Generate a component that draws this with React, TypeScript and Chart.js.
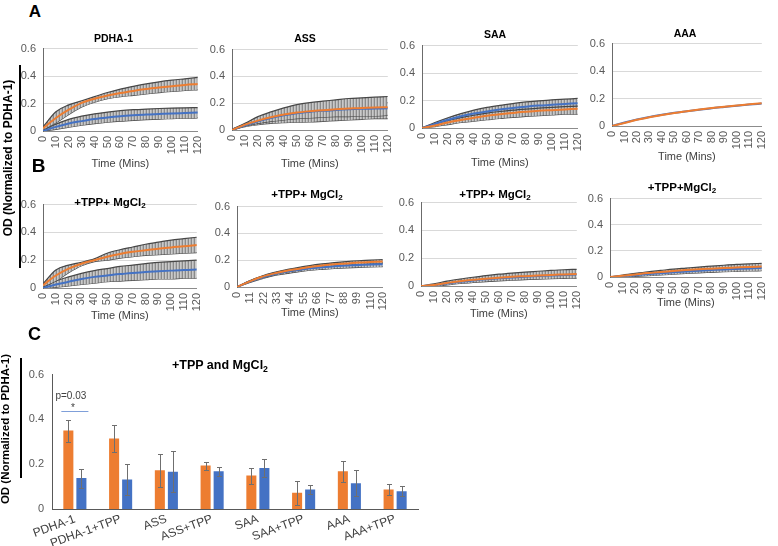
import React, { useEffect, useRef } from "react";
import { Chart, registerables } from "chart.js";

Chart.register(...registerables);

const FONT = "'Liberation Sans', Arial, Helvetica, sans-serif";
const ORANGE = "#ED7D31";
const BLUE = "#4472C4";
const TICK_COLOR = "#595959";

// ---------- time axis (minutes) ----------
const timeMins = [0, 10, 20, 30, 40, 50, 60, 70, 80, 90, 100, 110, 120];

// ---------- Panel A (no cofactors) ----------
const pdhaOrange = [0.02, 0.095, 0.155, 0.205, 0.235, 0.258, 0.277, 0.292, 0.305, 0.316, 0.326, 0.335, 0.342];
const pdhaOrangeHi = [0.03, 0.14, 0.19, 0.22, 0.25, 0.28, 0.305, 0.325, 0.343, 0.358, 0.37, 0.38, 0.39];
const pdhaOrangeLo = [0.01, 0.06, 0.12, 0.175, 0.21, 0.235, 0.25, 0.26, 0.27, 0.28, 0.288, 0.295, 0.3];
const pdhaBlue = [0, 0.03, 0.055, 0.072, 0.087, 0.098, 0.107, 0.114, 0.12, 0.124, 0.128, 0.131, 0.134];
const pdhaBlueHi = [0.005, 0.05, 0.085, 0.108, 0.125, 0.138, 0.148, 0.155, 0.16, 0.164, 0.167, 0.169, 0.17];
const pdhaBlueLo = [0, 0.012, 0.028, 0.042, 0.054, 0.064, 0.072, 0.078, 0.083, 0.087, 0.09, 0.093, 0.095];

const assOrange = [0, 0.04, 0.07, 0.095, 0.115, 0.13, 0.14, 0.148, 0.155, 0.16, 0.165, 0.168, 0.17];
const assOrangeHi = [0.005, 0.05, 0.1, 0.135, 0.165, 0.19, 0.205, 0.215, 0.225, 0.235, 0.24, 0.245, 0.25];
const assOrangeLo = [0, 0.03, 0.05, 0.065, 0.075, 0.085, 0.09, 0.095, 0.1, 0.1, 0.105, 0.105, 0.11];
const assBlue = [0, 0.035, 0.065, 0.09, 0.11, 0.125, 0.135, 0.143, 0.15, 0.155, 0.158, 0.16, 0.162];
const assBlueHi = [0.005, 0.045, 0.085, 0.115, 0.14, 0.16, 0.175, 0.185, 0.19, 0.195, 0.2, 0.2, 0.205];
const assBlueLo = [0, 0.025, 0.04, 0.05, 0.055, 0.058, 0.06, 0.065, 0.07, 0.075, 0.08, 0.085, 0.085];

const saaOrange = [0, 0.018, 0.04, 0.058, 0.075, 0.09, 0.1, 0.11, 0.118, 0.125, 0.13, 0.135, 0.14];
const saaOrangeHi = [0, 0.03, 0.055, 0.075, 0.093, 0.108, 0.12, 0.13, 0.138, 0.145, 0.15, 0.155, 0.16];
const saaOrangeLo = [0, 0.01, 0.025, 0.04, 0.05, 0.06, 0.07, 0.078, 0.085, 0.09, 0.095, 0.1, 0.1];
const saaBlue = [0, 0.03, 0.06, 0.085, 0.105, 0.12, 0.135, 0.145, 0.155, 0.163, 0.17, 0.175, 0.18];
const saaBlueHi = [0, 0.04, 0.075, 0.105, 0.13, 0.15, 0.165, 0.178, 0.19, 0.198, 0.205, 0.21, 0.215];
const saaBlueLo = [0, 0.02, 0.045, 0.068, 0.085, 0.1, 0.115, 0.125, 0.135, 0.143, 0.15, 0.155, 0.16];

const aaaOrange = [0, 0.022, 0.045, 0.063, 0.08, 0.095, 0.108, 0.12, 0.131, 0.141, 0.15, 0.158, 0.166];
const aaaBlue = [0, 0.026, 0.048, 0.066, 0.082, 0.096, 0.108, 0.119, 0.13, 0.139, 0.148, 0.156, 0.163];

// ---------- Panel B (+TPP + MgCl2) ----------
const pdhaTppOrange = [0.02, 0.09, 0.14, 0.175, 0.2, 0.225, 0.245, 0.26, 0.272, 0.282, 0.292, 0.3, 0.31];
const pdhaTppOrangeHi = [0.03, 0.13, 0.165, 0.185, 0.21, 0.25, 0.275, 0.295, 0.315, 0.33, 0.345, 0.355, 0.365];
const pdhaTppOrangeLo = [0.01, 0.05, 0.11, 0.16, 0.19, 0.2, 0.215, 0.225, 0.235, 0.24, 0.245, 0.25, 0.255];
const pdhaTppBlue = [0, 0.025, 0.045, 0.065, 0.08, 0.09, 0.1, 0.108, 0.115, 0.12, 0.125, 0.13, 0.133];
const pdhaTppBlueHi = [0.005, 0.05, 0.08, 0.105, 0.125, 0.14, 0.155, 0.165, 0.175, 0.185, 0.19, 0.195, 0.2];
const pdhaTppBlueLo = [0, 0.005, 0.015, 0.025, 0.035, 0.045, 0.05, 0.055, 0.06, 0.065, 0.065, 0.07, 0.07];

const assTppOrange = [0, 0.04, 0.075, 0.1, 0.12, 0.135, 0.15, 0.16, 0.17, 0.176, 0.182, 0.186, 0.19];
const assTppOrangeHi = [0, 0.045, 0.08, 0.107, 0.128, 0.145, 0.16, 0.172, 0.182, 0.19, 0.196, 0.2, 0.205];
const assTppOrangeLo = [0, 0.035, 0.068, 0.092, 0.11, 0.125, 0.14, 0.15, 0.16, 0.166, 0.172, 0.176, 0.18];
const assTppBlue = [0, 0.038, 0.07, 0.095, 0.113, 0.127, 0.14, 0.148, 0.155, 0.16, 0.165, 0.168, 0.17];
const assTppBlueHi = [0, 0.045, 0.078, 0.103, 0.122, 0.137, 0.15, 0.158, 0.165, 0.17, 0.175, 0.178, 0.18];
const assTppBlueLo = [0, 0.032, 0.06, 0.085, 0.1, 0.113, 0.125, 0.132, 0.138, 0.143, 0.147, 0.15, 0.152];

const saaTppOrange = [0, 0.008, 0.022, 0.035, 0.045, 0.053, 0.06, 0.066, 0.071, 0.076, 0.08, 0.083, 0.086];
const saaTppOrangeHi = [0, 0.015, 0.035, 0.05, 0.063, 0.075, 0.085, 0.093, 0.1, 0.106, 0.112, 0.117, 0.12];
const saaTppOrangeLo = [0, 0, 0.008, 0.018, 0.025, 0.032, 0.037, 0.042, 0.046, 0.05, 0.053, 0.055, 0.057];
const saaTppBlue = [0, 0.006, 0.018, 0.03, 0.04, 0.048, 0.055, 0.061, 0.067, 0.072, 0.076, 0.079, 0.082];

const aaaTppOrange = [0, 0.01, 0.02, 0.03, 0.038, 0.046, 0.053, 0.059, 0.064, 0.069, 0.073, 0.077, 0.08];
const aaaTppOrangeHi = [0, 0.015, 0.028, 0.04, 0.05, 0.06, 0.068, 0.076, 0.083, 0.09, 0.096, 0.1, 0.105];
const aaaTppOrangeLo = [0, 0, 0.005, 0.01, 0.016, 0.022, 0.027, 0.032, 0.036, 0.04, 0.043, 0.046, 0.048];
const aaaTppBlue = [0, 0.006, 0.014, 0.022, 0.029, 0.036, 0.042, 0.048, 0.053, 0.058, 0.062, 0.066, 0.069];

// ---------- Panel C (bar chart, +TPP and MgCl2) ----------
const barCategories = ["PDHA-1", "PDHA-1+TPP", "ASS", "ASS+TPP", "SAA", "SAA+TPP", "AAA", "AAA+TPP"];
const barOrange = [0.35, 0.315, 0.173, 0.194, 0.149, 0.072, 0.169, 0.087];
const barOrangeHi = [0.397, 0.376, 0.245, 0.21, 0.184, 0.126, 0.214, 0.112];
const barOrangeLo = [0.3, 0.254, 0.099, 0.174, 0.112, 0.017, 0.121, 0.064];
const barBlue = [0.138, 0.132, 0.166, 0.169, 0.183, 0.087, 0.115, 0.079];
const barBlueHi = [0.179, 0.199, 0.258, 0.187, 0.224, 0.105, 0.173, 0.102];
const barBlueLo = [0.095, 0.064, 0.074, 0.149, 0.142, 0.067, 0.06, 0.06];
const sigLabel = "p=0.03";
const sigValue = 0.438;

const yTickStep = 0.2;
const yMax = 0.6;

type Band = { hi: number[]; lo: number[] } | null;
type PanelSpec = {
  L: number; R: number; T: number; B: number; timeY: number; xStep: number;
  orange: number[]; blue: number[]; orangeBand: Band; blueBand: Band;
};

const panels: PanelSpec[] = [
  { L: 43, R: 207, T: 43, B: 131, timeY: 164, xStep: 10, orange: pdhaOrange, blue: pdhaBlue,
    orangeBand: { hi: pdhaOrangeHi, lo: pdhaOrangeLo }, blueBand: { hi: pdhaBlueHi, lo: pdhaBlueLo } },
  { L: 232, R: 397, T: 44, B: 130, timeY: 164, xStep: 10, orange: assOrange, blue: assBlue,
    orangeBand: { hi: assOrangeHi, lo: assOrangeLo }, blueBand: { hi: assBlueHi, lo: assBlueLo } },
  { L: 422, R: 587, T: 40, B: 128, timeY: 163, xStep: 10, orange: saaOrange, blue: saaBlue,
    orangeBand: { hi: saaOrangeHi, lo: saaOrangeLo }, blueBand: { hi: saaBlueHi, lo: saaBlueLo } },
  { L: 612, R: 771, T: 38, B: 126, timeY: 157, xStep: 10, orange: aaaOrange, blue: aaaBlue,
    orangeBand: null, blueBand: null },
  { L: 43, R: 206, T: 199, B: 288, timeY: 316, xStep: 10, orange: pdhaTppOrange, blue: pdhaTppBlue,
    orangeBand: { hi: pdhaTppOrangeHi, lo: pdhaTppOrangeLo }, blueBand: { hi: pdhaTppBlueHi, lo: pdhaTppBlueLo } },
  { L: 237, R: 392, T: 201, B: 287, timeY: 313, xStep: 11, orange: assTppOrange, blue: assTppBlue,
    orangeBand: { hi: assTppOrangeHi, lo: assTppOrangeLo }, blueBand: { hi: assTppBlueHi, lo: assTppBlueLo } },
  { L: 421, R: 586, T: 197, B: 286, timeY: 314, xStep: 10, orange: saaTppOrange, blue: saaTppBlue,
    orangeBand: { hi: saaTppOrangeHi, lo: saaTppOrangeLo }, blueBand: null },
  { L: 610, R: 771, T: 193, B: 277, timeY: 303, xStep: 10, orange: aaaTppOrange, blue: aaaTppBlue,
    orangeBand: { hi: aaaTppOrangeHi, lo: aaaTppOrangeLo }, blueBand: null },
];

const fmtY = (v: any) => {
  const n = Math.round(Number(v) * 10) / 10;
  return n === 0 ? "0" : n.toFixed(1);
};

function makePattern(ctx: CanvasRenderingContext2D) {
  const c = document.createElement("canvas");
  c.width = 3;
  c.height = 4;
  const g = c.getContext("2d")!;
  g.fillStyle = "#c9c9c9";
  g.fillRect(0, 0, 3, 4);
  g.fillStyle = "#8a8a8a";
  g.fillRect(0, 0, 1, 4);
  g.fillStyle = "#b4b4b4";
  g.fillRect(2, 0, 1, 4);
  return ctx.createPattern(c, "repeat");
}

function LinePanel({ spec }: { spec: PanelSpec }) {
  const ref = useRef<HTMLCanvasElement>(null);
  const YW = 26, PT = 8, PR = 9;
  const left = spec.L - YW;
  const top = spec.T - PT;
  const width = spec.R - spec.L + YW + PR;
  const bottom = spec.timeY + 7;
  const height = bottom - top;
  const xh = bottom - spec.B;

  useEffect(() => {
    const canvas = ref.current!;
    const ctx = canvas.getContext("2d")!;
    const pattern = makePattern(ctx);
    const pts = (arr: number[]) => timeMins.map((t, i) => ({ x: t, y: arr[i] }));
    const lineDs = (arr: number[], color: string) => ({
      data: pts(arr), borderColor: color, borderWidth: 2, pointRadius: 0,
      cubicInterpolationMode: "monotone", fill: false,
    });
    const datasets: any[] = [lineDs(spec.orange, ORANGE), lineDs(spec.blue, BLUE)];
    [spec.orangeBand, spec.blueBand].forEach((b) => {
      if (!b) return;
      datasets.push({
        data: pts(b.hi), borderColor: "#474747", borderWidth: 1.2, pointRadius: 0,
        cubicInterpolationMode: "monotone", fill: "+1", backgroundColor: pattern,
      });
      datasets.push({
        data: pts(b.lo), borderColor: "#474747", borderWidth: 1.2, pointRadius: 0,
        cubicInterpolationMode: "monotone", fill: false,
      });
    });
    const chart = new Chart(canvas, {
      type: "line",
      data: { datasets },
      options: {
        animation: false,
        responsive: false,
        maintainAspectRatio: false,
        devicePixelRatio: 1,
        layout: { padding: { top: PT, right: PR, left: 0, bottom: 0 } },
        plugins: { legend: { display: false }, tooltip: { enabled: false }, title: { display: false } },
        scales: {
          x: {
            type: "linear", min: 0, max: 120, bounds: "data",
            ticks: {
              stepSize: spec.xStep, minRotation: 90, maxRotation: 90, autoSkip: false,
              includeBounds: false, color: TICK_COLOR, padding: 5,
              font: { family: FONT, size: 11 },
            },
            grid: { display: false, drawTicks: false },
            border: { display: true, color: "#8c8c8c", width: 1 },
            title: {
              display: true, text: "Time (Mins)", color: "#404040", padding: 0,
              font: { family: FONT, size: 11 },
            },
            afterFit: (s: any) => { s.height = xh; },
          },
          y: {
            min: 0, max: yMax,
            ticks: {
              stepSize: yTickStep, color: TICK_COLOR, padding: 7,
              font: { family: FONT, size: 11 }, callback: fmtY,
            },
            grid: { color: "#d9d9d9", drawTicks: false },
            border: { display: true, color: "#6b6b6b", width: 1 },
            afterFit: (s: any) => { s.width = YW; },
          },
        },
      } as any,
    });
    return () => chart.destroy();
  }, []);

  return (
    <canvas
      ref={ref}
      width={width}
      height={height}
      style={{ position: "absolute", left, top, width, height }}
    />
  );
}

const errorBarPlugin = {
  id: "errorBars",
  afterDatasetsDraw(chart: any) {
    const ctx = chart.ctx;
    const ys = chart.scales.y;
    const sets = [
      [barOrangeHi, barOrangeLo],
      [barBlueHi, barBlueLo],
    ];
    ctx.save();
    ctx.strokeStyle = "#6f6f6f";
    ctx.lineWidth = 1;
    sets.forEach(([hi, lo], di) => {
      const meta = chart.getDatasetMeta(di);
      meta.data.forEach((bar: any, i: number) => {
        const x = Math.round(bar.x) + 0.5;
        const yh = Math.round(ys.getPixelForValue(hi[i])) + 0.5;
        const yl = Math.round(ys.getPixelForValue(lo[i])) + 0.5;
        ctx.beginPath();
        ctx.moveTo(x, yh);
        ctx.lineTo(x, yl);
        ctx.moveTo(x - 2.5, yh);
        ctx.lineTo(x + 2.5, yh);
        ctx.moveTo(x - 2.5, yl);
        ctx.lineTo(x + 2.5, yl);
        ctx.stroke();
      });
    });
    // significance bracket between the first pair
    const o = chart.getDatasetMeta(0).data[0];
    const b = chart.getDatasetMeta(1).data[0];
    const x1 = o.x - o.width / 2 - 2;
    const x2 = b.x + b.width / 2 + 2;
    const yl = Math.round(ys.getPixelForValue(sigValue)) + 0.5;
    ctx.strokeStyle = "#7f9fd9";
    ctx.beginPath();
    ctx.moveTo(x1, yl);
    ctx.lineTo(x2, yl);
    ctx.stroke();
    const mid = (o.x + b.x) / 2;
    ctx.fillStyle = "#404040";
    ctx.textAlign = "center";
    ctx.textBaseline = "middle";
    ctx.font = `10px ${FONT}`;
    ctx.fillText("*", mid - 2, yl - 3);
    ctx.fillText(sigLabel, mid - 4, ys.getPixelForValue(sigValue + 0.065));
    ctx.restore();
  },
};

function BarPanel() {
  const ref = useRef<HTMLCanvasElement>(null);
  const L = 52, R = 418, T = 368, B = 509;
  const YW = 30, PT = 8, PR = 10;
  const left = L - YW, top = T - PT;
  const width = R - L + YW + PR;
  const height = 546 - top;
  const xh = 546 - B;
  useEffect(() => {
    const chart = new Chart(ref.current!, {
      type: "bar",
      data: {
        labels: barCategories,
        datasets: [
          { data: barOrange, backgroundColor: ORANGE, categoryPercentage: 0.57, barPercentage: 0.77 },
          { data: barBlue, backgroundColor: BLUE, categoryPercentage: 0.57, barPercentage: 0.77 },
        ],
      },
      options: {
        animation: false,
        responsive: false,
        maintainAspectRatio: false,
        devicePixelRatio: 1,
        layout: { padding: { top: PT, right: PR, left: 0, bottom: 0 } },
        plugins: { legend: { display: false }, tooltip: { enabled: false } },
        scales: {
          x: {
            ticks: {
              minRotation: 20, maxRotation: 20, autoSkip: false, color: "#404040", padding: 3,
              font: { family: FONT, size: 12 },
            },
            grid: { display: false, drawTicks: false },
            border: { display: true, color: "#595959", width: 1 },
            afterFit: (s: any) => { s.height = xh; },
          },
          y: {
            min: 0, max: yMax,
            ticks: {
              stepSize: yTickStep, color: TICK_COLOR, padding: 8,
              font: { family: FONT, size: 11 }, callback: fmtY,
            },
            grid: { display: false, drawTicks: false },
            border: { display: true, color: "#595959", width: 1 },
            afterFit: (s: any) => { s.width = YW; },
          },
        },
      } as any,
      plugins: [errorBarPlugin],
    });
    return () => chart.destroy();
  }, []);
  return (
    <canvas
      ref={ref}
      width={width}
      height={height}
      style={{ position: "absolute", left, top, width, height }}
    />
  );
}

function Txt({ x, y, size, bold, children, rotate, color }: any) {
  return (
    <div
      style={{
        position: "absolute", left: x, top: y, whiteSpace: "nowrap", lineHeight: 1,
        fontSize: size, fontWeight: bold ? "bold" : "normal", color: color || "#000",
        transform: `translate(-50%, -50%)${rotate ? ` rotate(${rotate}deg)` : ""}`,
        fontFamily: FONT,
      }}
    >
      {children}
    </div>
  );
}

const sub = (t: string) => (
  <span style={{ fontSize: "0.7em", position: "relative", top: "0.3em" }}>{t}</span>
);

const tppTitle = (plusSpace: boolean) => (
  <>
    +TPP+{plusSpace ? " " : ""}MgCl{sub("2")}
  </>
);

export default function App() {
  return (
    <div
      style={{
        position: "fixed", left: 0, top: 0, width: 778, height: 546, overflow: "hidden",
        background: "#fff", fontFamily: FONT,
      }}
    >
      {panels.map((p, i) => (
        <LinePanel key={i} spec={p} />
      ))}
      <BarPanel />

      <Txt x={35} y={11} size={17} bold>A</Txt>
      <Txt x={38.5} y={165} size={19} bold>B</Txt>
      <Txt x={34.5} y={333.5} size={18} bold>C</Txt>

      <Txt x={113.5} y={38} size={10.5} bold>PDHA-1</Txt>
      <Txt x={305} y={38} size={10.5} bold>ASS</Txt>
      <Txt x={495} y={34} size={10.5} bold>SAA</Txt>
      <Txt x={685} y={33} size={10.5} bold>AAA</Txt>

      <Txt x={110} y={203} size={11.5} bold>{tppTitle(true)}</Txt>
      <Txt x={307} y={195} size={11.5} bold>{tppTitle(true)}</Txt>
      <Txt x={495} y={195} size={11.5} bold>{tppTitle(true)}</Txt>
      <Txt x={682} y={188} size={11.5} bold>{tppTitle(false)}</Txt>

      <Txt x={220} y={365} size={12.5} bold>+TPP and MgCl{sub("2")}</Txt>

      <Txt x={8} y={158} size={12} bold rotate={-90}>OD (Normalized to PDHA-1)</Txt>
      <div style={{ position: "absolute", left: 19, top: 65, width: 2, height: 203, background: "#000" }} />

      <Txt x={6} y={429} size={11.5} bold rotate={-90}>OD (Normalized to PDHA-1)</Txt>
      <div style={{ position: "absolute", left: 20, top: 358, width: 2, height: 120, background: "#000" }} />
    </div>
  );
}
